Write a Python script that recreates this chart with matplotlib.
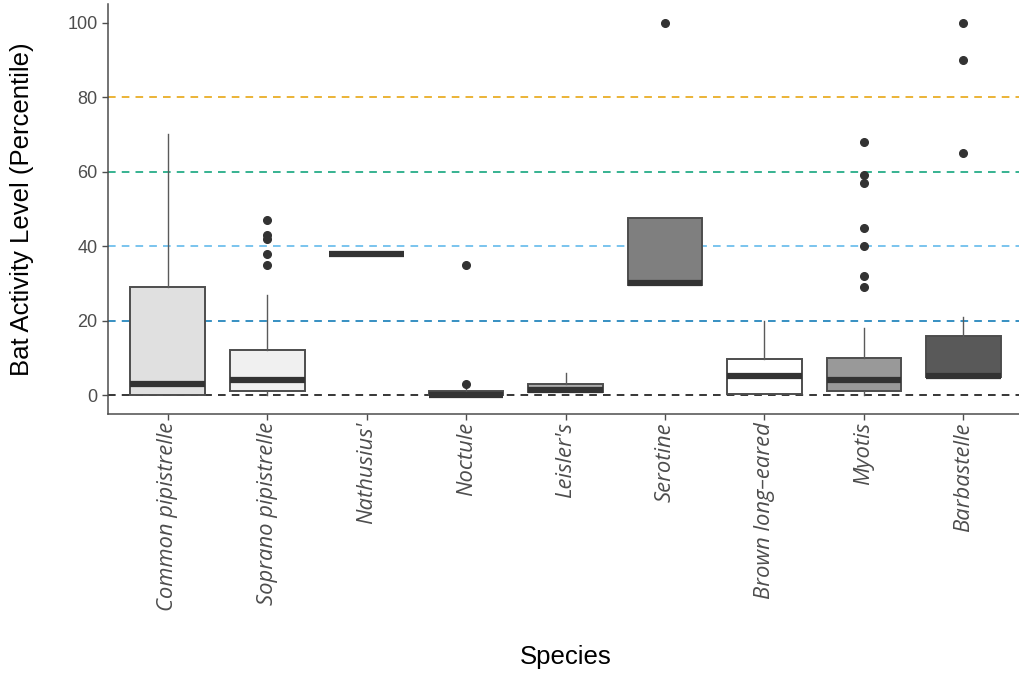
import matplotlib
matplotlib.use("Agg")
import matplotlib.pyplot as plt

# ------------------------------------------------------------------
# Data
# ------------------------------------------------------------------
species = ["Common pipistrelle", "Soprano pipistrelle", "Nathusius'", "Noctule",
           "Leisler's", "Serotine", "Brown long\u2013eared", "Myotis", "Barbastelle"]
q1 = [0, 1, 38, 0, 0.8, 29.6, 0.2, 1, 4.8]
med = [3, 4, 38, 0, 1.3, 30, 5.1, 4, 5.2]
q3 = [29, 12, 38, 1, 3.1, 47.5, 9.6, 10, 15.8]
whislo = [0, 0, 38, 0, 0.8, 29.6, 0.2, 0, 4.8]
whishi = [70, 27, 38, 2, 6, 47.5, 20, 18, 21]
fliers = [
    [],
    [47, 43, 42, 38, 35],
    [],
    [35, 3],
    [],
    [100],
    [],
    [68, 59, 57, 45, 40, 32, 29],
    [100, 90, 65],
]
fills = ["#E0E0E0", "#F0F0F0", "#DDDDDD", "#3A3A3A", "#ABABAB",
         "#7F7F7F", "#FFFFFF", "#999999", "#595959"]

ref_levels = [0, 20, 40, 60, 80]
ref_colors = ["#000000", "#0072B2", "#56B4E9", "#009E73", "#E69F00"]

# ------------------------------------------------------------------
# Figure
# ------------------------------------------------------------------
fig = plt.figure(figsize=(10.2, 6.75), dpi=100)
ax = fig.add_axes([0.106, 0.387, 0.894, 0.607])

for lvl, col in zip(ref_levels, ref_colors):
    ax.axhline(lvl, color=col, lw=1.1, ls=(0, (5, 4)), zorder=1)

stats = []
for i, name in enumerate(species):
    stats.append(dict(label=name, q1=q1[i], med=med[i], q3=q3[i],
                      whislo=whislo[i], whishi=whishi[i], fliers=fliers[i]))

bp = ax.bxp(stats, positions=range(len(species)), widths=0.75,
            patch_artist=True, showcaps=False,
            boxprops=dict(edgecolor="#4D4D4D", linewidth=1.4),
            medianprops=dict(color="#333333", linewidth=4.5, solid_capstyle="butt"),
            whiskerprops=dict(color="#5A5A5A", linewidth=1.0),
            flierprops=dict(marker="o", markersize=5.5, markerfacecolor="#333333",
                            markeredgecolor="#333333"),
            zorder=3)
for patch, col in zip(bp["boxes"], fills):
    patch.set_facecolor(col)

ax.set_xlim(-0.6, 8.57)
ax.set_ylim(-5, 105)
ax.set_yticks([0, 20, 40, 60, 80, 100])
ax.tick_params(axis="y", labelsize=13, labelcolor="#4D4D4D", color="#4D4D4D",
               length=4, width=1)
ax.tick_params(axis="x", color="#4D4D4D", length=4, width=1, pad=2)
ax.set_xticks(range(len(species)))
ax.set_xticklabels(species, rotation=90, ha="center", va="top",
                   fontstyle="italic", family="Open Sans", fontsize=15.8,
                   color="#4D4D4D")
for lab in ax.get_yticklabels():
    lab.set_family("Liberation Sans")

for s in ("top", "right"):
    ax.spines[s].set_visible(False)
for s in ("left", "bottom"):
    ax.spines[s].set_color("#4D4D4D")
    ax.spines[s].set_linewidth(1.1)

ax.set_ylabel("Bat Activity Level (Percentile)", family="Liberation Sans",
              fontsize=18.5, labelpad=24)
fig.text(0.555, 0.027, "Species", family="Liberation Sans", fontsize=18.5,
         ha="center", va="center")

fig.savefig("out.png", dpi=100)
